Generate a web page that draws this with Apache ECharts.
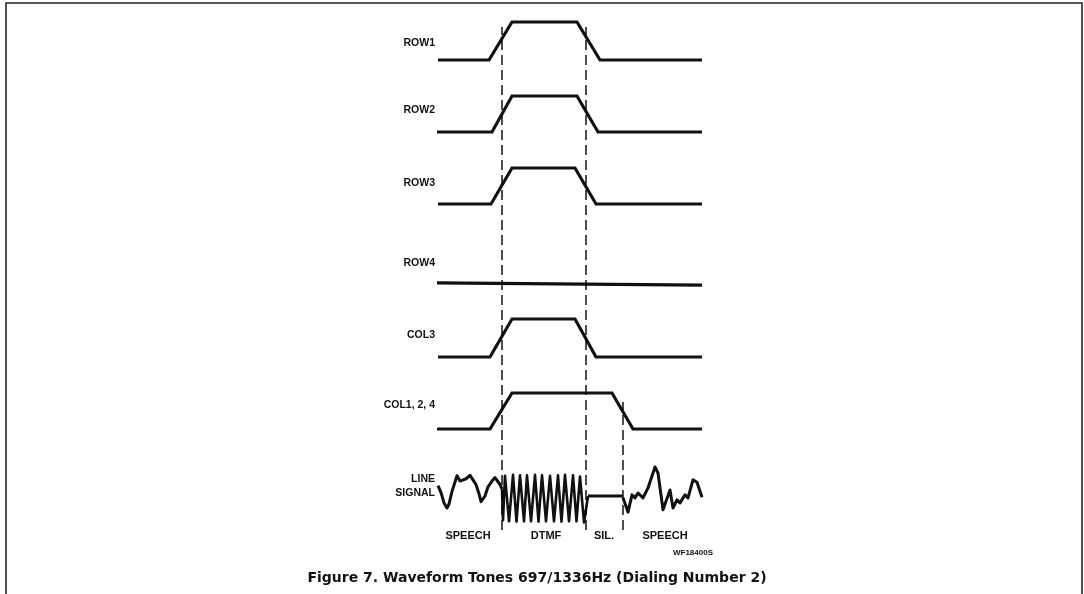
<!DOCTYPE html>
<html>
<head>
<meta charset="utf-8">
<script src="https://cdn.jsdelivr.net/npm/echarts@6/dist/echarts.min.js"></script>
<style>html,body{margin:0;padding:0;background:#fff}#c{width:1084px;height:594px}</style>
</head>
<body>
<div id="c"></div>
<script>
// ---- data (time units along the diagram, levels 0 = low, 1 = high) ----
const rowNames = ['ROW1', 'ROW2', 'ROW3', 'ROW4', 'COL3', 'COL1, 2, 4'];
const row1Time = [0, 51, 74, 139, 162, 264];
const row2Time = [-1, 54, 74, 139, 160, 264];
const row3Time = [0, 53, 74, 137, 158, 264];
const row4Time = [-1, 264];
const col3Time = [0, 52, 74, 137, 158, 264];
const col124Time = [-1, 52, 74, 174, 195, 264];
const pulseLevel = [0, 0, 1, 1, 0, 0];
const row4Level = [0.03, -0.03];

const markerTimes = [64, 148];      // DTMF start / end
const silenceEndTime = [185];       // end of silence

const speech1Time = [0, 3, 6, 9, 11, 14, 19, 22, 24, 28, 32, 35, 38, 41, 43, 45, 47, 50, 54, 57, 59, 62, 64];
const speech1Value = [0.45, 0.15, -0.3, -0.52, -0.35, 0.2, 0.88, 0.65, 0.58, 0.75, 0.9, 0.7, 0.5, 0.1, -0.25, -0.3, 0.0, 0.4, 0.65, 0.8, 0.75, 0.5, 0.3];
const dtmfTime = [64, 65, 67, 71, 75, 78.5, 82, 86, 89, 93, 97, 100.5, 104, 108, 112, 116, 120, 123.5, 127, 131, 135, 138.5, 142, 146, 150];
const dtmfValue = [0.3, -1.05, 0.88, -1.1, 0.92, -1.12, 0.9, -1.1, 0.9, -1.1, 0.92, -1.12, 0.9, -1.1, 0.88, -1.1, 0.9, -1.12, 0.92, -1.1, 0.9, -1.1, 0.85, -1.15, 0];
const silenceTime = [150, 185];
const silenceValue = [0, 0];
const speech2Time = [185, 190, 194, 197, 200, 205, 210, 217, 220, 225, 232, 235, 239, 242, 247, 250, 255, 259, 264];
const speech2Value = [-0.08, -0.7, 0.05, -0.08, 0.13, -0.08, 0.35, 1.26, 1.0, -0.6, 0.26, -0.52, -0.17, -0.3, 0.05, -0.08, 0.7, 0.6, -0.05];

const phaseLabels = ['SPEECH', 'DTMF', 'SIL.', 'SPEECH'];
const figureId = 'WF18400S';
const captionText = 'Figure 7. Waveform Tones 697/1336Hz (Dialing Number 2)';

// ---- layout ----
const INK = '#111';
const X_LEFT = 436, X_WIDTH = 266, X_MIN = -2, X_MAX = 264;
const rowBands = [[22, 60], [96, 132], [168, 204], [247, 284], [319, 357], [393, 429]];
const rowLabelY = [43, 110, 183, 263, 335, 405];
const rowTimes = [row1Time, row2Time, row3Time, row4Time, col3Time, col124Time];
const rowLevels = [pulseLevel, pulseLevel, pulseLevel, row4Level, pulseLevel, pulseLevel];

const zip = (a, b) => a.map((v, i) => [v, b[i]]);

const grids = [], xAxes = [], yAxes = [], series = [];
function addGrid(top, height, ymin, ymax) {
  const i = grids.length;
  grids.push({ left: X_LEFT, width: X_WIDTH, top: top, height: height });
  xAxes.push({ gridIndex: i, type: 'value', min: X_MIN, max: X_MAX, show: false });
  yAxes.push({ gridIndex: i, type: 'value', min: ymin, max: ymax, show: false });
  return i;
}
const traceStyle = { color: INK, width: 3.2, join: 'miter' };

rowBands.forEach((b, r) => {
  const g = addGrid(b[0], b[1] - b[0], 0, 1);
  series.push({ type: 'line', xAxisIndex: g, yAxisIndex: g, data: zip(rowTimes[r], rowLevels[r]),
    symbol: 'none', clip: false, lineStyle: traceStyle, silent: true });
});

const gl = addGrid(461.5, 69, -1.5, 1.5);
[[speech1Time, speech1Value, 3], [dtmfTime, dtmfValue, 2.6], [silenceTime, silenceValue, 3], [speech2Time, speech2Value, 3]].forEach(s => {
  series.push({ type: 'line', xAxisIndex: gl, yAxisIndex: gl, data: zip(s[0], s[1]), symbol: 'none', clip: false,
    lineStyle: { color: INK, width: s[2], join: 'round' }, silent: true });
});

const dashStyle = { color: '#000', width: 1.4, type: [10, 5] };
const gd1 = addGrid(27, 503, 0, 1);
markerTimes.forEach(t => series.push({ type: 'line', xAxisIndex: gd1, yAxisIndex: gd1, data: [[t, 0], [t, 1]],
  symbol: 'none', lineStyle: dashStyle, silent: true }));
const gd2 = addGrid(402, 128, 0, 1);
silenceEndTime.forEach(t => series.push({ type: 'line', xAxisIndex: gd2, yAxisIndex: gd2, data: [[t, 0], [t, 1]],
  symbol: 'none', lineStyle: dashStyle, silent: true }));

const FONT = '"Liberation Sans", Arial, sans-serif';
const graphics = [
  { type: 'polyline', shape: { points: [[6, 600], [6, 3], [1082, 3], [1082, 600]] }, style: { stroke: '#222', lineWidth: 1.6, fill: null }, silent: true }
];
rowNames.forEach((n, i) => graphics.push({ type: 'text', style: { text: n, x: 435, y: rowLabelY[i], textAlign: 'right', textVerticalAlign: 'middle', font: 'bold 10.5px ' + FONT, fill: INK } }));
graphics.push({ type: 'text', style: { text: 'LINE', x: 435, y: 479, textAlign: 'right', textVerticalAlign: 'middle', font: 'bold 10.5px ' + FONT, fill: INK } });
graphics.push({ type: 'text', style: { text: 'SIGNAL', x: 435, y: 493, textAlign: 'right', textVerticalAlign: 'middle', font: 'bold 10.5px ' + FONT, fill: INK } });
const phaseX = [468, 546, 604, 665];
phaseLabels.forEach((p, i) => graphics.push({ type: 'text', style: { text: p, x: phaseX[i], y: 536, textAlign: 'center', textVerticalAlign: 'middle', font: 'bold 11px ' + FONT, fill: INK } }));
graphics.push({ type: 'text', style: { text: figureId, x: 713, y: 553, textAlign: 'right', textVerticalAlign: 'middle', font: 'bold 8px ' + FONT, fill: INK } });
graphics.push({ type: 'text', style: { text: captionText, x: 537, y: 578, textAlign: 'center', textVerticalAlign: 'middle', font: 'bold 14px "DejaVu Sans", sans-serif', fill: INK } });

const chart = echarts.init(document.getElementById('c'), null, { renderer: 'canvas' });
chart.setOption({
  animation: false,
  backgroundColor: '#fff',
  grid: grids, xAxis: xAxes, yAxis: yAxes, series: series,
  graphic: graphics
});
</script>
</body>
</html>
